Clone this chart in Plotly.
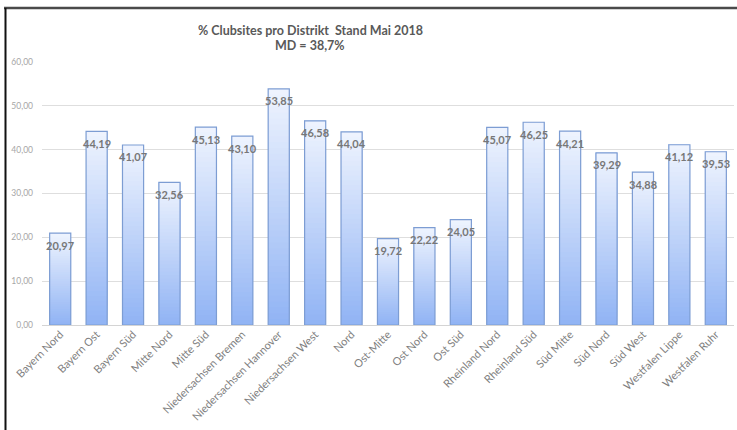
import plotly.graph_objects as go

categories = ["Bayern Nord", "Bayern Ost", "Bayern Süd", "Mitte Nord", "Mitte Süd",
              "Niedersachsen Bremen", "Niedersachsen Hannover", "Niedersachsen West", "Nord",
              "Ost-Mitte", "Ost Nord", "Ost Süd", "Rheinland Nord", "Rheinland Süd",
              "Süd Mitte", "Süd Nord", "Süd West", "Westfalen Lippe", "Westfalen Ruhr"]
values = [20.97, 44.19, 41.07, 32.56, 45.13, 43.10, 53.85, 46.58, 44.04,
          19.72, 22.22, 24.05, 45.07, 46.25, 44.21, 39.29, 34.88, 41.12, 39.53]
labels = [f"{v:.2f}".replace(".", ",") for v in values]
title_line1 = "% Clubsites pro Distrikt  Stand Mai 2018"
title_line2 = "MD = 38,7%"

W, H = 737, 430
L, R, T, B = 42, 3, 62, 105
pw, ph = W - L - R, H - T - B

def px_x(px):
    return (px - L) / pw

def px_y(py):
    return (H - B - py) / ph

bottom_rgb = (0x90, 0xb3, 0xf4)
top_rgb = (0xef, 0xf4, 0xfe)
K = 40

fig = go.Figure()
for i in range(K):
    t = (i + 0.5) / K
    c = tuple(int(round(bottom_rgb[j] + (top_rgb[j] - bottom_rgb[j]) * t)) for j in range(3))
    fig.add_trace(go.Bar(
        x=categories,
        y=[v * (1 - i / K) for v in values],
        base=[v * i / K for v in values],
        marker=dict(color=f"rgb{c}", line=dict(width=0)),
        showlegend=False, hoverinfo="skip",
    ))

fig.add_trace(go.Bar(
    x=categories, y=values,
    marker=dict(color="rgba(0,0,0,0)", line=dict(color="#7d9dd3", width=1.2)),
    showlegend=False,
))

annotations = [
    dict(x=c, y=v, xref="x", yref="y", text=lab, showarrow=False,
         xanchor="center", yanchor="middle", yshift=-12,
         font=dict(family="Lato, Liberation Sans", size=11, color="#777777", weight="bold"))
    for c, v, lab in zip(categories, values, labels)
]
annotations += [
    dict(text=title_line1, xref="paper", yref="paper", x=px_x(310), y=px_y(30),
         xanchor="center", yanchor="middle", showarrow=False,
         font=dict(family="Lato, Liberation Sans", size=12.5, color="#595959", weight="bold")),
    dict(text=title_line2, xref="paper", yref="paper", x=px_x(310), y=px_y(45),
         xanchor="center", yanchor="middle", showarrow=False,
         font=dict(family="Lato, Liberation Sans", size=12.5, color="#595959", weight="bold")),
]

fig.update_layout(
    width=W, height=H,
    margin=dict(l=L, r=R, t=T, b=B, pad=0),
    paper_bgcolor="white", plot_bgcolor="white",
    barmode="overlay", bargap=0.42,
    separators=",.",
    xaxis=dict(
        range=[-0.5, len(categories) - 0.5],
        tickangle=-45,
        tickfont=dict(family="Lato, Liberation Sans", size=11, color="#7f7f7f"),
        showgrid=False, showline=False, ticks="",
    ),
    yaxis=dict(
        range=[0, 60], dtick=10, tickformat=".2f",
        tickfont=dict(family="Lato, Liberation Sans", size=8.5, color="#a6a6a6"),
        gridcolor="#dedede", gridwidth=1,
        zeroline=True, zerolinecolor="#d4d4d4", zerolinewidth=1,
        showline=False, ticks="", ticklabelstandoff=8,
    ),
    annotations=annotations,
    shapes=[
        dict(type="line", xref="paper", yref="paper", x0=px_x(4), x1=px_x(737),
             y0=px_y(8), y1=px_y(8), line=dict(color="#4a4a4a", width=2.5)),
        dict(type="line", xref="paper", yref="paper", x0=px_x(5.5), x1=px_x(5.5),
             y0=px_y(8), y1=px_y(430), line=dict(color="#111111", width=2)),
    ],
)

fig.write_html("out.html")
